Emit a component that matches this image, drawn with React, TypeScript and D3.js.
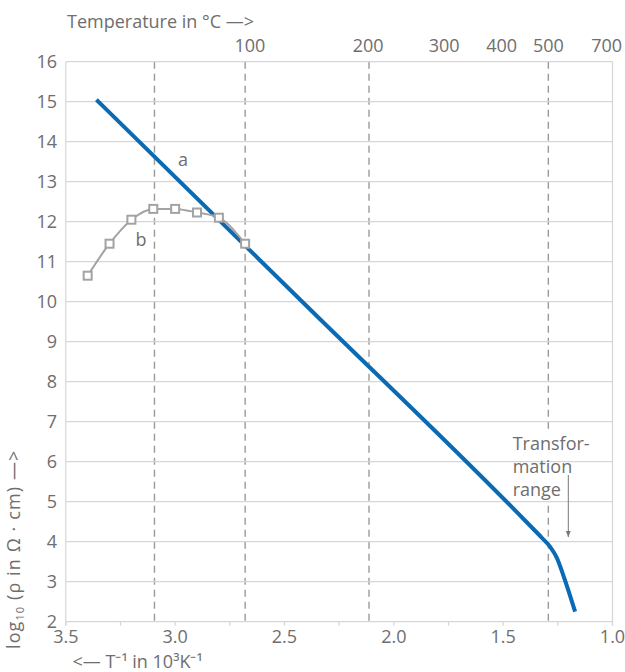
import React from "react";
import * as d3 from "d3";

// ---- data ----
const yTickValues = [2, 3, 4, 5, 6, 7, 8, 9, 10, 11, 12, 13, 14, 15, 16];
const xTickValues = [3.5, 3.25, 3.0, 2.75, 2.5, 2.25, 2.0, 1.75, 1.5, 1.25, 1.0];
const xLabelValues = [3.5, 3.0, 2.5, 2.0, 1.5, 1.0];
const dashedTemps = [50, 100, 200, 500]; // °C
const topLabels = ["100", "200", "300", "400", "500", "700"];
const topLabelPos = [2.658, 2.117, 1.77, 1.507, 1.293, 1.027]; // in 10^3 K^-1

// curve a (log10 resistivity vs 1/T)
const aX = [3.36, 2.4, 1.4, 1.32, 1.285, 1.255, 1.22, 1.171];
const aY = [15.05, 9.9, 4.53, 4.08, 3.87, 3.6, 3.08, 2.25];

// curve b
const bX = [3.4, 3.3, 3.2, 3.1, 3.0, 2.9, 2.8, 2.68];
const bY = [10.65, 11.45, 12.05, 12.32, 12.32, 12.23, 12.1, 11.45];

const W = 625;
const H = 672;
const FONT = "'Open Sans', sans-serif";
const TXT = "#6e6e6e";
const GRID = "#d6d6d6";
const BLUE = "#0a6ab3";
const GRAYLINE = "#a3a3a3";

export default function App() {
  const x = d3.scaleLinear().domain([3.5, 1.0]).range([65.8, 612.5]);
  const y = d3.scaleLinear().domain([2, 16]).range([621.7, 61.7]);
  const [x0, x1] = x.range();
  const [yb, yt] = y.range();

  const aData = aX.map((v, i) => [v, aY[i]] as [number, number]);
  const bData = bX.map((v, i) => [v, bY[i]] as [number, number]);
  const lineGen = d3
    .line<[number, number]>()
    .x((d) => x(d[0]))
    .y((d) => y(d[1]))
    .curve(d3.curveMonotoneX);

  const fs = 18;
  const x500 = x(1000 / (500 + 273.15));
  return (
    <svg
      width={W}
      height={H}
      style={{ position: "absolute", left: 0, top: 0, background: "#fff" }}
      fontFamily={FONT}
    >
      <defs>
        <marker id="arr" viewBox="0 0 10 10" refX="10" refY="5" markerWidth="6" markerHeight="6" orient="auto">
          <path d="M0,1 L10,5 L0,9 z" fill="#777" />
        </marker>
      </defs>
      {/* dashed temperature lines */}
      {dashedTemps.map((t) => (
        <line
          key={"d" + t}
          x1={x(1000 / (t + 273.15))}
          x2={x(1000 / (t + 273.15))}
          y1={yt}
          y2={yb}
          stroke="#9a9a9a"
          strokeWidth={1.4}
          strokeDasharray="7,5"
        />
      ))}
      {/* white box behind annotation hides the dashed line */}
      <rect x={x500 - 4} y={429} width={8} height={74} fill="#fff" />
      {/* grid */}
      {yTickValues.map((v) => (
        <line key={"g" + v} x1={x0} x2={x1} y1={y(v)} y2={y(v)} stroke={GRID} strokeWidth={1.2} />
      ))}
      <line x1={x0} x2={x0} y1={yt} y2={yb + 4} stroke={GRID} strokeWidth={1.2} />
      <line x1={x1} x2={x1} y1={yt} y2={yb + 4} stroke={GRID} strokeWidth={1.2} />
      {xTickValues.map((v) => (
        <line key={"t" + v} x1={x(v)} x2={x(v)} y1={yb} y2={yb + 4} stroke={GRID} strokeWidth={1.2} />
      ))}
      {/* y labels */}
      {yTickValues.map((v) => (
        <text key={"yl" + v} x={57} y={y(v)} dy="0.36em" textAnchor="end" fontSize={fs} fill={TXT}>
          {v}
        </text>
      ))}
      {/* x labels */}
      {xLabelValues.map((v) => (
        <text key={"xl" + v} x={x(v)} y={643} textAnchor="middle" fontSize={fs} fill={TXT}>
          {v.toFixed(1)}
        </text>
      ))}
      {/* top labels */}
      {topLabels.map((l, i) => (
        <text key={"tl" + l} x={x(topLabelPos[i])} y={52} textAnchor="middle" fontSize={fs} fill={TXT}>
          {l}
        </text>
      ))}
      <text x={67} y={27.5} fontSize={fs} fill={TXT}>
        Temperature in °C —&gt;
      </text>
      <text x={72.5} y={668} fontSize={fs} fill={TXT}>
        &lt;— T⁻¹ in 10³K⁻¹
      </text>
      <text transform="translate(20,649) rotate(-90)" fontSize={fs} fill={TXT} letterSpacing={1.1}>
        log
        <tspan fontSize={11} dy={4}>10</tspan>
        <tspan dy={-4}> (ρ in Ω · cm) —&gt;</tspan>
      </text>
      {/* curves */}
      <path d={lineGen(aData) || ""} fill="none" stroke={BLUE} strokeWidth={4} />
      <path d={lineGen(bData) || ""} fill="none" stroke={GRAYLINE} strokeWidth={2} />
      {bData.map((d, i) => (
        <rect
          key={"m" + i}
          x={x(d[0]) - 4}
          y={y(d[1]) - 4}
          width={8}
          height={8}
          fill="#fff"
          stroke={GRAYLINE}
          strokeWidth={2}
        />
      ))}
      <text x={183} y={160} dy="0.36em" textAnchor="middle" fontSize={fs} fill={TXT}>
        a
      </text>
      <text x={141} y={240} dy="0.36em" textAnchor="middle" fontSize={fs} fill={TXT}>
        b
      </text>
      {/* annotation */}
      <text x={512.7} y={450} fontSize={fs} fill={TXT}>
        Transfor-
      </text>
      <text x={512.7} y={473} fontSize={fs} fill={TXT}>
        mation
      </text>
      <text x={512.7} y={496} fontSize={fs} fill={TXT}>
        range
      </text>
      <line x1={568.3} x2={568.3} y1={475} y2={537} stroke="#777" strokeWidth={1} markerEnd="url(#arr)" />
    </svg>
  );
}
